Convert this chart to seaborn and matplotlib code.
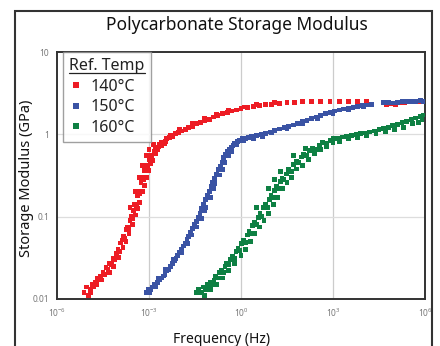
import matplotlib
matplotlib.use("Agg")
import matplotlib.pyplot as plt
import matplotlib.ticker as mticker
from matplotlib.patches import Rectangle
from matplotlib.lines import Line2D
import seaborn as sns
import pandas as pd
import numpy as np

# ---- data (log10 frequency in Hz, storage modulus in GPa) ----
series_names = ["140°C", "150°C", "160°C"]
series_colors = ["#ED1C24", "#3A53A4", "#0E8043"]

red_points = [(-5.12, 0.012), (-5.05, 0.014), (-4.98, 0.011), (-4.92, 0.013), (-4.85, 0.015),
              (-4.8, 0.014), (-4.74, 0.016), (-4.68, 0.018), (-4.62, 0.017), (-4.57, 0.019),
              (-4.5, 0.021), (-4.45, 0.020), (-4.4, 0.024), (-4.34, 0.023), (-4.28, 0.027),
              (-4.22, 0.026), (-4.17, 0.031), (-4.12, 0.030), (-4.06, 0.036), (-4.01, 0.040),
              (-3.96, 0.038), (-3.92, 0.048), (-3.87, 0.052), (-3.83, 0.058), (-3.78, 0.055),
              (-3.74, 0.070), (-3.7, 0.075), (-3.66, 0.072), (-3.62, 0.090), (-3.58, 0.10),
              (-3.54, 0.095), (-3.5, 0.12), (-3.46, 0.14), (-3.42, 0.13), (-3.38, 0.18),
              (-3.34, 0.20), (-3.3, 0.19), (-3.26, 0.26), (-3.22, 0.30), (-3.18, 0.28),
              (-3.14, 0.36), (-3.1, 0.42), (-3.05, 0.40), (-3.0, 0.50), (-2.95, 0.55),
              (-2.9, 0.52), (-2.84, 0.62), (-2.78, 0.68), (-2.72, 0.65), (-2.65, 0.75),
              (-2.58, 0.80), (-2.5, 0.78), (-2.42, 0.88), (-2.33, 0.92), (-2.24, 0.95),
              (-2.14, 1.02), (-2.04, 1.05), (-1.93, 1.10), (-1.82, 1.15), (-1.7, 1.22),
              (-1.58, 1.25), (-1.45, 1.35), (-1.32, 1.40), (-1.18, 1.48), (-1.04, 1.52),
              (-0.9, 1.62), (-0.75, 1.70), (-0.6, 1.78), (-0.45, 1.85), (-0.3, 1.92),
              (-0.15, 1.98), (0.0, 2.05), (0.2, 2.12), (0.4, 2.2), (0.6, 2.25),
              (0.8, 2.3), (1.0, 2.32), (1.25, 2.38), (1.5, 2.42), (1.75, 2.45),
              (2.0, 2.48), (2.3, 2.5), (2.6, 2.48), (2.9, 2.52), (3.2, 2.5),
              (3.5, 2.52), (3.8, 2.5), (4.1, 2.52), (4.75, 2.3), (4.9, 2.35),
              (5.05, 2.3), (5.2, 2.4), (5.35, 2.45), (5.5, 2.5), (5.65, 2.48),
              (5.8, 2.52), (5.95, 2.5),
              (-4.9, 0.012), (-4.7, 0.015), (-4.55, 0.017), (-4.3, 0.021), (-4.15, 0.025),
              (-4.0, 0.032), (-3.85, 0.042), (-3.75, 0.05), (-3.65, 0.062), (-3.55, 0.08),
              (-3.45, 0.105), (-3.38, 0.125), (-3.3, 0.15), (-3.22, 0.2), (-3.15, 0.24),
              (-3.08, 0.3), (-3.02, 0.36), (-2.96, 0.44), (-2.88, 0.48), (-2.8, 0.58),
              (-2.7, 0.7), (-2.6, 0.72), (-2.45, 0.82), (-2.3, 0.98), (-2.0, 1.15),
              (-1.6, 1.35), (-1.2, 1.55), (-0.8, 1.75), (-0.4, 1.95), (0.1, 2.15),
              (0.5, 2.3), (1.1, 2.42), (-3.62, 0.13), (-3.45, 0.2), (-3.3, 0.3),
              (-3.2, 0.42), (-3.1, 0.55), (-3.0, 0.65), (-2.85, 0.75)]

blue_points = [(-3.1, 0.012), (-3.03, 0.013), (-2.97, 0.012), (-2.9, 0.014), (-2.84, 0.015),
               (-2.78, 0.014), (-2.72, 0.016), (-2.66, 0.017), (-2.6, 0.018), (-2.54, 0.019),
               (-2.48, 0.020), (-2.42, 0.022), (-2.36, 0.023), (-2.3, 0.025), (-2.24, 0.027),
               (-2.18, 0.029), (-2.12, 0.031), (-2.06, 0.034), (-2.0, 0.037), (-1.94, 0.040),
               (-1.88, 0.044), (-1.82, 0.048), (-1.76, 0.053), (-1.7, 0.058), (-1.64, 0.065),
               (-1.58, 0.072), (-1.52, 0.080), (-1.46, 0.088), (-1.4, 0.098), (-1.34, 0.11),
               (-1.28, 0.125), (-1.22, 0.14), (-1.16, 0.16), (-1.1, 0.18), (-1.04, 0.20),
               (-0.98, 0.23), (-0.92, 0.26), (-0.86, 0.29), (-0.8, 0.33), (-0.74, 0.37),
               (-0.68, 0.41), (-0.62, 0.46), (-0.56, 0.52), (-0.5, 0.57), (-0.44, 0.62),
               (-0.38, 0.66), (-0.32, 0.70), (-0.26, 0.74), (-0.2, 0.78), (-0.12, 0.82),
               (-0.04, 0.85), (0.05, 0.88), (0.15, 0.90), (0.25, 0.92), (0.35, 0.94),
               (0.5, 0.97), (0.65, 1.0), (0.8, 1.03), (0.95, 1.07), (1.1, 1.12),
               (1.25, 1.16), (1.4, 1.2), (1.55, 1.25), (1.7, 1.3), (1.85, 1.36),
               (2.0, 1.42), (2.15, 1.48), (2.3, 1.55), (2.45, 1.62), (2.6, 1.7),
               (2.75, 1.78), (2.9, 1.85), (3.05, 1.92), (3.2, 1.98), (3.35, 2.03),
               (3.5, 2.08), (3.65, 2.13), (3.8, 2.18), (3.95, 2.22), (4.1, 2.27),
               (4.25, 2.3), (4.65, 2.45), (4.8, 2.42), (4.95, 2.4), (5.1, 2.45),
               (5.25, 2.48), (5.4, 2.5), (5.55, 2.52), (5.7, 2.5), (5.85, 2.55),
               (5.95, 2.52),
               (-2.95, 0.013), (-2.7, 0.018), (-2.45, 0.023), (-2.2, 0.03), (-1.95, 0.037),
               (-1.75, 0.047), (-1.6, 0.06), (-1.45, 0.075), (-1.3, 0.095), (-1.2, 0.12),
               (-1.15, 0.13), (-1.0, 0.17), (-0.9, 0.22), (-0.85, 0.25), (-0.7, 0.32),
               (-0.6, 0.37), (-0.55, 0.45), (-0.4, 0.55), (-0.3, 0.62), (-0.15, 0.75),
               (0.1, 0.84), (0.4, 0.9), (0.7, 0.95), (1.0, 1.05), (1.5, 1.18),
               (2.0, 1.35), (2.5, 1.55), (3.0, 1.8), (3.5, 2.0), (4.0, 2.2)]

green_points = [(-1.45, 0.012), (-1.38, 0.013), (-1.3, 0.012), (-1.22, 0.014), (-1.15, 0.013),
                (-1.08, 0.015), (-1.0, 0.016), (-0.94, 0.015), (-0.88, 0.017), (-0.82, 0.019),
                (-0.76, 0.018), (-0.7, 0.021), (-0.64, 0.022), (-0.58, 0.021), (-0.52, 0.025),
                (-0.46, 0.027), (-0.4, 0.026), (-0.34, 0.030), (-0.28, 0.033), (-0.22, 0.031),
                (-0.16, 0.038), (-0.1, 0.041), (-0.04, 0.039), (0.02, 0.047), (0.08, 0.052),
                (0.14, 0.049), (0.2, 0.060), (0.26, 0.066), (0.32, 0.063), (0.38, 0.078),
                (0.44, 0.085), (0.5, 0.08), (0.56, 0.098), (0.62, 0.11), (0.68, 0.10),
                (0.74, 0.13), (0.8, 0.14), (0.86, 0.13), (0.92, 0.16), (0.98, 0.18),
                (1.04, 0.17), (1.1, 0.21), (1.16, 0.23), (1.22, 0.22), (1.28, 0.27),
                (1.34, 0.29), (1.4, 0.28), (1.48, 0.33), (1.56, 0.37), (1.64, 0.35),
                (1.72, 0.43), (1.8, 0.47), (1.88, 0.45), (1.96, 0.53), (2.05, 0.57),
                (2.14, 0.55), (2.24, 0.63), (2.34, 0.68), (2.44, 0.66), (2.55, 0.74),
                (2.66, 0.79), (2.78, 0.77), (2.9, 0.85), (3.02, 0.9), (3.15, 0.88),
                (3.3, 0.93), (3.45, 0.95), (3.6, 0.97), (3.75, 0.99), (3.9, 1.02),
                (4.05, 1.04), (4.2, 1.07), (4.35, 1.1), (4.5, 1.14), (4.65, 1.18),
                (4.8, 1.22), (4.95, 1.27), (5.1, 1.32), (5.25, 1.38), (5.4, 1.44),
                (5.55, 1.5), (5.7, 1.58), (5.85, 1.66), (5.95, 1.72), (5.8, 1.4),
                (5.9, 1.5),
                (-1.2, 0.011), (-1.0, 0.013), (-0.8, 0.015), (-0.6, 0.018), (-0.4, 0.022),
                (-0.2, 0.027), (0.0, 0.034), (0.15, 0.04), (0.3, 0.05), (0.45, 0.062),
                (0.6, 0.075), (0.75, 0.09), (0.9, 0.11), (1.05, 0.14), (1.2, 0.17),
                (1.35, 0.22), (1.5, 0.26), (1.65, 0.3), (1.8, 0.38), (2.0, 0.42),
                (2.2, 0.5), (2.4, 0.58), (2.6, 0.65), (2.8, 0.7), (3.0, 0.8),
                (3.2, 0.82), (3.5, 0.88), (3.8, 0.92), (4.1, 0.97), (4.4, 1.02),
                (4.7, 1.08), (5.0, 1.15), (5.3, 1.22), (5.6, 1.35), (0.5, 0.13),
                (0.9, 0.22), (1.3, 0.35), (1.1, 0.28), (1.7, 0.55), (2.1, 0.68)]

x_tick_exponents = [-6, -3, 0, 3, 6]
y_ticks = [0.01, 0.1, 1, 10]
y_tick_labels = ["0.01", "0.1", "1", "10"]

# ---- build table ----
rows = []
for name, pts in zip(series_names, [red_points, blue_points, green_points]):
    for lf, g in pts:
        rows.append({"Frequency (Hz)": 10.0 ** lf, "Storage Modulus (GPa)": g, "Ref. Temp": name})
df = pd.DataFrame(rows)

sns.set_theme(style="white")
FONT = "Noto Sans"
plt.rcParams["font.family"] = [FONT, "DejaVu Sans"]
plt.rcParams["mathtext.fontset"] = "custom"
plt.rcParams["mathtext.rm"] = FONT
plt.rcParams["mathtext.it"] = FONT
plt.rcParams["mathtext.bf"] = FONT

fig = plt.figure(figsize=(4.4, 3.46), dpi=100)
ax = fig.add_axes([57 / 440, 1 - 299 / 346, (425 - 57) / 440, (299 - 52) / 346])

sns.scatterplot(data=df, x="Frequency (Hz)", y="Storage Modulus (GPa)", hue="Ref. Temp",
                hue_order=series_names, palette=series_colors, marker="s", s=12,
                linewidth=0, ax=ax, zorder=3)

ax.set_xscale("log")
ax.set_yscale("log")
ax.set_xlim(1e-6, 1e6)
ax.set_ylim(0.01, 10)

ax.set_xticks([10.0 ** e for e in x_tick_exponents])
ax.set_xticklabels([r"$10^{%d}$" % e for e in x_tick_exponents])
ax.xaxis.set_minor_locator(mticker.FixedLocator([10.0 ** e for e in range(-6, 7)]))
ax.xaxis.set_minor_formatter(mticker.NullFormatter())
ax.set_yticks(y_ticks)
ax.set_yticklabels(y_tick_labels)
ax.yaxis.set_minor_locator(mticker.LogLocator(base=10, subs=np.arange(2, 10)))
ax.yaxis.set_minor_formatter(mticker.NullFormatter())

ax.tick_params(axis="both", which="major", direction="inout", length=7, width=1.0,
               color="#333333", labelsize=6, labelcolor="#777777", pad=2)
ax.tick_params(axis="both", which="minor", direction="in", length=3, width=0.8,
               color="#333333")

# gridlines
for e in [-3, 0, 3]:
    ax.axvline(10.0 ** e, color="#cccccc", lw=0.9, zorder=1)
for v in [0.1, 1]:
    ax.axhline(v, color="#dddddd", lw=0.9, zorder=1)

for sp in ax.spines.values():
    sp.set_color("#333333")
    sp.set_linewidth(1.4)

ax.set_xlabel("Frequency (Hz)", fontsize=10, color="#111111")
ax.set_ylabel("Storage Modulus (GPa)", fontsize=10.5, color="#111111")
ax.xaxis.set_label_coords(0.446, -0.134)
ax.yaxis.set_label_coords(-0.062, 0.49)
fig.text(237 / 440, 1 - 25 / 346, "Polycarbonate Storage Modulus", ha="center", va="center",
         fontsize=12.5, color="#111111")

handles, labels = ax.get_legend_handles_labels()
leg = ax.legend(handles=handles, labels=labels, title="Ref. Temp",
                loc="upper left", bbox_to_anchor=(0.016, 1.0), borderaxespad=0,
                fontsize=11.5, title_fontsize=11.5, frameon=True, fancybox=False,
                markerscale=1.3, handletextpad=0.45, handlelength=0.9, labelspacing=0.28,
                borderpad=0.4)
leg.get_frame().set_edgecolor("#888888")
leg.get_frame().set_linewidth(1.0)
leg._legend_box.align = "left"
for t in leg.get_texts():
    t.set_color("#222222")
leg.get_title().set_color("#222222")

# outer frame
fig.patches.append(Rectangle((15 / 440, -0.1), (432 - 15) / 440, 1.1 - 11 / 346,
                             transform=fig.transFigure, fill=False, edgecolor="#333333",
                             linewidth=1.5, clip_on=False))

# underline legend title
fig.canvas.draw()
bb = leg.get_title().get_window_extent().transformed(fig.transFigure.inverted())
fig.lines.append(Line2D([bb.x0, bb.x1], [bb.y0 + 0.004, bb.y0 + 0.004],
                        transform=fig.transFigure, color="#222222", lw=0.9))

fig.savefig("out.png", dpi=100)
